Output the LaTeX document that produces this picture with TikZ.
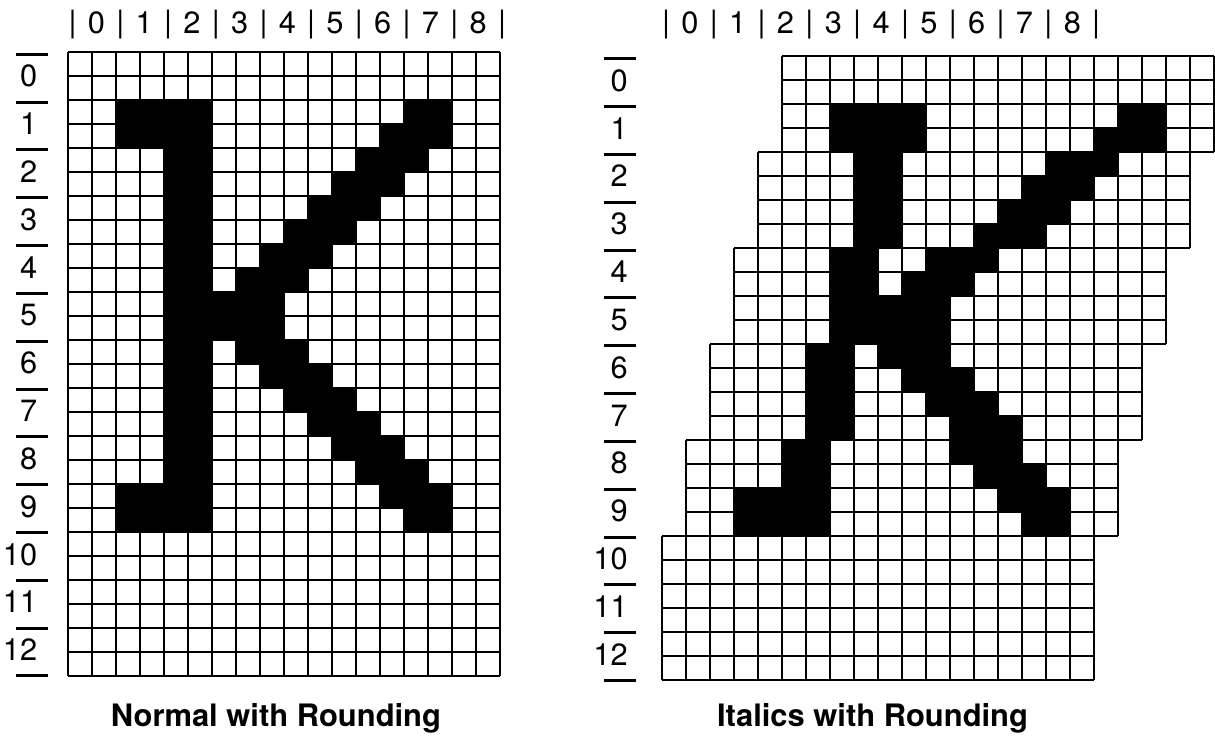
\documentclass[tikz,border=0pt]{standalone}
\usepackage{fontspec}
\setmainfont{TeX Gyre Heros}
\begin{document}
\begin{tikzpicture}[
    x=0.02cm, y=-0.02cm,
    gridline/.style={line width=1.1pt},
    tick/.style={line width=1.7pt},
    num/.style={font=\fontsize{17.5}{20}\selectfont, inner sep=0pt},
    caption/.style={font=\fontsize{17.6}{21}\selectfont\bfseries, inner sep=0pt}
]
\useasboundingbox (0,0) rectangle (1215,735);

% black cells of the K, per row: row/first col/last col
\def\kcells{2/2/5, 2/14/15, 3/2/5, 3/13/15, 4/4/5, 4/12/14, 5/4/5, 5/11/13,
    6/4/5, 6/10/12, 7/4/5, 7/9/11, 8/4/5, 8/8/10, 9/4/5, 9/7/9, 10/4/8, 11/4/8,
    12/4/5, 12/7/9, 13/4/5, 13/8/10, 14/4/5, 14/9/11, 15/4/5, 15/10/12,
    16/4/5, 16/11/13, 17/4/5, 17/12/14, 18/2/5, 18/13/15, 19/2/5, 19/14/15}

% normal
\foreach \r/\a/\b in \kcells
    \fill (68+24*\a,52+24*\r) rectangle (92+24*\b,76+24*\r);
\foreach \c in {0,...,18}
    \draw[gridline] (68+24*\c,52) -- (68+24*\c,676);
\foreach \r in {0,...,26}
    \draw[gridline] (68,52+24*\r) -- (500,52+24*\r);

\foreach \k in {0,...,13}
    \draw[tick] (16,54.3+47.82*\k) -- (48,54.3+47.82*\k);
\foreach \k in {0,...,12}
    \node[num, anchor=base east] (lrow\k) at (37.5,86.8+47.82*\k) {\k};
\foreach \k in {0,...,9}
    \node[num, anchor=base] (lbar\k) at (72.7+47.7*\k,32) {|};
\foreach \k in {0,...,8}
    \node[num, anchor=base] (lcol\k) at (96.5+47.7*\k,33) {\k};

\node[caption, anchor=base] (normal) at (276,726) {Normal with Rounding};

% italics: every 4 rows shift one cell to the left
\foreach \r/\a/\b in \kcells {
    \pgfmathtruncatemacro\bnd{\r/4}
    \fill (782-24*\bnd+24*\a,56+24*\r) rectangle (806-24*\bnd+24*\b,80+24*\r);
}
\foreach \bnd/\top/\bot in {0/0/4, 1/4/8, 2/8/12, 3/12/16, 4/16/20, 5/20/26} {
    \foreach \c in {0,...,18}
        \draw[gridline] (782-24*\bnd+24*\c,56+24*\top) -- (782-24*\bnd+24*\c,56+24*\bot);
    \foreach \r in {\top,...,\bot}
        \draw[gridline] (782-24*\bnd,56+24*\r) -- (1214-24*\bnd,56+24*\r);
}

\foreach \k in {0,...,13}
    \draw[tick] (604,58.8+47.82*\k) -- (636,58.8+47.82*\k);
\foreach \k in {0,...,12}
    \node[num, anchor=base east] (rrow\k) at (628,91.3+47.82*\k) {\k};
\foreach \k in {0,...,9}
    \node[num, anchor=base] (rbar\k) at (666+47.8*\k,32) {|};
\foreach \k in {0,...,8}
    \node[num, anchor=base] (rcol\k) at (689.9+47.8*\k,33) {\k};

\node[caption, anchor=base] (italics) at (872.5,726) {Italics with Rounding};

\end{tikzpicture}
\end{document}
